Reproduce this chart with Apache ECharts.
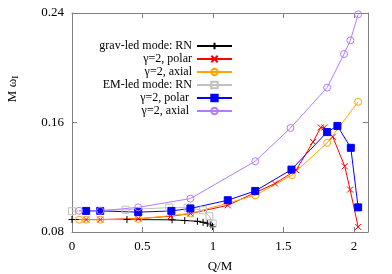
<!DOCTYPE html>
<html><head><meta charset="utf-8">
<script src="https://cdn.jsdelivr.net/npm/echarts@6/dist/echarts.min.js"></script>
<style>html,body{margin:0;padding:0;background:#fff}#c{width:392px;height:274px}</style>
</head><body><div id="c"></div>
<script>
const xTicks = [0, 0.5, 1, 1.5, 2];
const yTicks = [0.08, 0.16, 0.24];
const seriesNames = ['grav-led mode: RN', 'γ=2, polar', 'γ=2, axial', 'EM-led mode: RN', 'γ=2, polar ', 'γ=2, axial '];
const gravRN = [[0,0.0891],[0.39,0.0891],[0.71,0.0889],[0.80,0.0884],[0.89,0.0878],[0.93,0.0871],[0.96,0.0864],[0.985,0.0852],[0.997,0.0840]];
const gravPolar = [[0.1,0.0891],[0.2,0.0891],[0.47,0.0898],[0.70,0.0915],[0.84,0.0935],[1.105,0.0995],[1.44,0.1154],[1.59,0.1252],[1.71,0.1458],[1.765,0.1564],[1.79,0.1564],[1.85,0.1495],[1.935,0.128],[1.973,0.111],[2.03,0.0837]];
const gravAxial = [[0.05,0.089],[0.1,0.089],[0.2,0.089],[0.47,0.0895],[0.84,0.0935],[1.30,0.1068],[1.56,0.1215],[1.81,0.1451],[2.03,0.1751]];
const emRN = [[0,0.0952],[0.38,0.0963],[0.69,0.0978],[0.82,0.0978],[0.93,0.0958],[0.975,0.0915],[0.998,0.0862]];
const emPolar = [[0.1,0.0954],[0.2,0.0954],[0.47,0.0945],[0.705,0.0954],[0.84,0.0972],[1.105,0.1032],[1.30,0.110],[1.557,0.1256],[1.81,0.153],[1.883,0.1575],[1.978,0.1415],[2.03,0.098]];
const emAxial = [[0.05,0.0955],[0.2,0.0955],[0.47,0.098],[0.84,0.1044],[1.30,0.1317],[1.55,0.156],[1.81,0.1855],[1.93,0.21],[1.975,0.22],[2.03,0.239]];

const FONT = 'Liberation Serif';
const PLUS = 'path://M5,0L5,10M0,5L10,5';
const CROSS = 'path://M0,0L10,10M10,0L0,10';
const CIRC = 'path://M10,5A5,5,0,1,1,0,5A5,5,0,1,1,10,5Z';
const SQ = 'path://M0,0L10,0L10,10L0,10Z';
function mk(name, data, color, symbol, size, filled) {
  return {
    name: name, type: 'line', data: data, symbol: symbol, symbolSize: size,
    showAllSymbol: true, animation: false, z: 2,
    lineStyle: {color: color, width: 1, type: 'solid'},
    itemStyle: {color: filled ? color : 'rgba(0,0,0,0)', borderColor: color, borderWidth: 1, borderType: 'solid'},
    emphasis: {disabled: true}
  };
}
const chart = echarts.init(document.getElementById('c'), null, {renderer: 'canvas'});
const axisCol = '#808080';
const xCommon = {type: 'value', min: 0, max: 2.1, interval: 0.5,
  axisLine: {show: true, onZero: false, lineStyle: {color: axisCol, width: 1}},
  axisTick: {show: true, inside: true, length: 5, lineStyle: {color: axisCol}},
  splitLine: {show: false}};
const yCommon = {type: 'value', min: yTicks[0], max: yTicks[yTicks.length-1], interval: 0.08,
  axisLine: {show: true, onZero: false, lineStyle: {color: axisCol, width: 1}},
  axisTick: {show: true, inside: true, length: 5, lineStyle: {color: axisCol}},
  splitLine: {show: false}};
chart.setOption({
  animation: false,
  grid: {left: 72, right: 24, top: 13, bottom: 42, containLabel: false, outerBoundsMode: 'none'},
  xAxis: [
    Object.assign({}, xCommon, {position: 'bottom',
      axisLabel: {margin: 8, fontFamily: FONT, fontSize: 13, color: '#000',
        formatter: v => (xTicks.some(t => Math.abs(t - v) < 1e-9) ? String(v) : '')},
      name: 'Q/M', nameLocation: 'middle', nameGap: 28,
      nameTextStyle: {fontFamily: FONT, fontSize: 13, color: '#000'}}),
    Object.assign({}, xCommon, {position: 'top', axisLabel: {show: false}})
  ],
  yAxis: [
    Object.assign({}, yCommon, {position: 'left',
      axisLabel: {margin: 8, fontFamily: FONT, fontSize: 13, color: '#000',
        formatter: v => (yTicks.some(t => Math.abs(t - v) < 1e-9) ? v.toFixed(2) : '')}}),
    Object.assign({}, yCommon, {position: 'right', axisLabel: {show: false}})
  ],
  legend: {
    orient: 'vertical', align: 'right', right: 159, top: 40, padding: 0,
    itemWidth: 35, itemHeight: 8, itemGap: 1,
    textStyle: {fontFamily: FONT, fontSize: 12, color: '#000', lineHeight: 12},
    data: seriesNames
  },
  graphic: [{
    type: 'text', x: 5, y: 89, rotation: Math.PI / 2,
    style: {text: '{a|M ω}{b|I}', fill: '#000', align: 'center', verticalAlign: 'top',
      rich: {a: {fontFamily: FONT, fontSize: 13, fill: '#000'},
             b: {fontFamily: FONT, fontSize: 9, fill: '#000', verticalAlign: 'bottom', padding: [6, 0, 0, 0]}}}
  }],
  series: [
    mk(seriesNames[0], gravRN, '#000000', PLUS, 7, false),
    mk(seriesNames[1], gravPolar, '#ff0000', CROSS, 6, false),
    mk(seriesNames[2], gravAxial, '#ffa500', CIRC, 7, false),
    mk(seriesNames[3], emRN, '#c0c0c0', SQ, 7, false),
    mk(seriesNames[4], emPolar, '#0000ff', SQ, 7, true),
    mk(seriesNames[5], emAxial, '#b57bff', CIRC, 7, false)
  ]
});
</script></body></html>
